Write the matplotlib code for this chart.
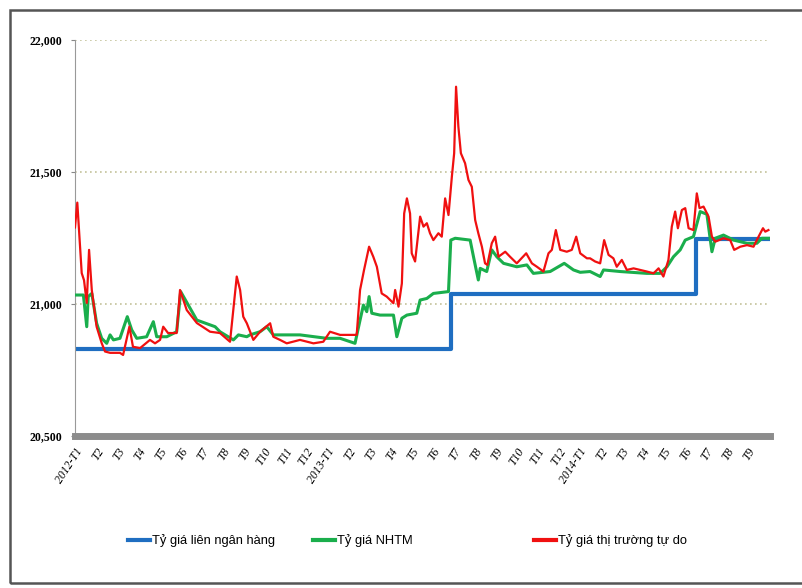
import matplotlib.pyplot as plt
from matplotlib.patches import Rectangle

# thang tinh tu 2012-T1 (0) den 2014-T9 (32)
tick_labels = ['2012-T1', 'T2', 'T3', 'T4', 'T5', 'T6', 'T7', 'T8', 'T9', 'T10', 'T11', 'T12',
               '2013-T1', 'T2', 'T3', 'T4', 'T5', 'T6', 'T7', 'T8', 'T9', 'T10', 'T11', 'T12',
               '2014-T1', 'T2', 'T3', 'T4', 'T5', 'T6', 'T7', 'T8', 'T9']

# Ty gia lien ngan hang (bac thang)
lnh_x = [0.0, 17.88, 29.57, 33.0]
lnh_y = [20828, 21036, 21246, 21246]

# Ty gia NHTM
nhtm_x = [0.00, 0.40, 0.56, 0.63, 0.80, 1.03, 1.27, 1.51, 1.67, 1.83, 2.14, 2.49, 2.70, 2.94,
          3.41, 3.73, 3.89, 4.37, 4.84, 5.03, 5.80, 6.67, 6.90, 7.54, 7.78, 8.18, 8.33, 8.81,
          9.13, 9.44, 9.92, 10.71, 11.98, 12.62, 13.33, 13.57, 13.73, 13.89, 14.00, 14.13,
          14.52, 15.16, 15.32, 15.56, 15.80, 16.27, 16.43, 16.75, 17.06, 17.78, 17.89, 18.10,
          18.81, 18.97, 19.10, 19.20, 19.29, 19.60, 19.84, 20.08, 20.40, 21.03, 21.51, 21.82,
          22.62, 23.29, 23.73, 24.05, 24.52, 25.00, 25.16, 25.95, 27.22, 27.86, 28.18, 28.49,
          28.81, 29.05, 29.44, 29.76, 30.08, 30.32, 30.48, 30.87, 31.35, 31.99, 32.46, 32.70,
          33.01]
nhtm_y = [21034, 21034, 20914, 21028, 21040, 20927, 20870, 20851, 20883, 20864, 20870, 20952,
          20902, 20870, 20876, 20933, 20876, 20876, 20895, 21047, 20939, 20914, 20895, 20864,
          20883, 20876, 20883, 20895, 20914, 20883, 20883, 20883, 20870, 20870, 20851, 20939,
          20996, 20971, 21028, 20965, 20958, 20958, 20876, 20946, 20958, 20965, 21015, 21021,
          21040, 21047, 21242, 21249, 21242, 21179, 21129, 21091, 21135, 21123, 21205, 21179,
          21154, 21141, 21148, 21116, 21123, 21154, 21129, 21120, 21123, 21104, 21129, 21123,
          21116, 21116, 21141, 21179, 21205, 21242, 21255, 21350, 21340, 21198, 21249, 21261,
          21242, 21230, 21230, 21249, 21249]

# Ty gia thi truong tu do
tudo_x = [0.00, 0.11, 0.32, 0.43, 0.56, 0.67, 0.80, 1.03, 1.27, 1.43, 1.67, 2.14, 2.29, 2.59,
          2.76, 3.10, 3.57, 3.81, 4.05, 4.20, 4.43, 4.84, 5.00, 5.32, 5.80, 6.43, 6.90, 7.38,
          7.70, 7.86, 8.01, 8.18, 8.49, 8.81, 9.29, 9.44, 9.76, 10.08, 10.71, 11.35, 11.82,
          12.14, 12.62, 13.41, 13.57, 13.76, 14.00, 14.20, 14.37, 14.60, 14.84, 15.16, 15.24,
          15.40, 15.56, 15.67, 15.80, 15.95, 16.03, 16.19, 16.43, 16.59, 16.75, 16.90, 17.06,
          17.30, 17.46, 17.62, 17.78, 17.94, 18.05, 18.14, 18.25, 18.37, 18.57, 18.73, 18.89,
          19.05, 19.20, 19.37, 19.52, 19.63, 19.84, 20.00, 20.16, 20.48, 20.71, 21.03, 21.48,
          21.75, 21.99, 22.30, 22.54, 22.70, 22.89, 23.10, 23.41, 23.65, 23.86, 24.05, 24.37,
          24.52, 24.76, 25.00, 25.19, 25.40, 25.63, 25.79, 26.03, 26.27, 26.59, 26.90, 27.22,
          27.54, 27.78, 28.01, 28.25, 28.41, 28.57, 28.70, 28.89, 29.05, 29.21, 29.44, 29.60,
          29.73, 29.92, 30.16, 30.32, 30.48, 30.87, 31.19, 31.38, 31.67, 31.99, 32.30, 32.54,
          32.75, 32.86, 33.01]
tudo_y = [21290, 21384, 21117, 21090, 21004, 21205, 21053, 20914, 20852, 20820, 20815, 20815,
          20807, 20914, 20838, 20833, 20864, 20851, 20864, 20914, 20890, 20890, 21053, 20977,
          20928, 20895, 20890, 20857, 21104, 21053, 20952, 20927, 20864, 20895, 20927, 20876,
          20864, 20851, 20864, 20851, 20857, 20895, 20883, 20883, 21053, 21129, 21217, 21179,
          21141, 21040, 21028, 21003, 21053, 20990, 21078, 21343, 21400, 21343, 21192, 21161,
          21331, 21293, 21306, 21268, 21242, 21268, 21255, 21400, 21337, 21482, 21571, 21823,
          21672, 21571, 21533, 21470, 21444, 21318, 21268, 21217, 21154, 21148, 21230, 21255,
          21179, 21198, 21179, 21154, 21192, 21154, 21141, 21123, 21192, 21205, 21280, 21205,
          21198, 21205, 21255, 21192, 21173, 21173, 21161, 21154, 21242, 21186, 21173, 21141,
          21167, 21129, 21135, 21129, 21123, 21116, 21135, 21104, 21167, 21293, 21350, 21287,
          21356, 21363, 21287, 21280, 21419, 21363, 21369, 21331, 21255, 21236, 21249, 21242,
          21205, 21217, 21223, 21217, 21255, 21287, 21274, 21280]

fig = plt.figure(figsize=(8.02, 5.88), dpi=100)
ax = fig.add_axes([0.0935, 0.2585, 0.867, 0.6735])

ax.plot(lnh_x, lnh_y, drawstyle='steps-post', color='#1f6ec1', lw=3.0,
        label='Tỷ giá liên ngân hàng', zorder=2)
ax.plot(nhtm_x, nhtm_y, color='#1aae4c', lw=2.2, label='Tỷ giá NHTM', zorder=3)
ax.plot(tudo_x, tudo_y, color='#f01010', lw=1.6, label='Tỷ giá thị trường tự do', zorder=4)

ax.set_xlim(0, 33.1)
ax.set_ylim(20500, 22000)
ax.set_yticks([20500, 21000, 21500, 22000])
ax.set_yticklabels(['20,500', '21,000', '21,500', '22,000'],
                   fontfamily='Liberation Serif', fontsize=8.5, fontweight='bold')
ax.set_xticks(range(len(tick_labels)))
ax.set_xticklabels(tick_labels, rotation=57, ha='right', va='top', rotation_mode='anchor',
                   fontfamily='Liberation Serif', fontsize=8.5, fontstyle='italic')
ax.tick_params(axis='x', length=0, pad=7)
ax.tick_params(axis='y', length=3, color='#888888', pad=6)

for y in [21000, 21500, 22000]:
    ax.axhline(y, color='#c4c29a', lw=1.2, linestyle=(0, (1, 2)), zorder=1)

ax.spines['top'].set_visible(False)
ax.spines['right'].set_visible(False)
ax.spines['left'].set_color('#999999')
ax.spines['bottom'].set_color('#8c8c8c')
ax.spines['bottom'].set_linewidth(5)

# chu thich: moi muc dat rieng mot cho nhu ban goc
legend_pos = [122, 307, 528]
for line, xpos in zip(ax.get_lines(), legend_pos):
    leg = fig.legend([line], [line.get_label()], loc='center left',
                     bbox_to_anchor=(xpos / 802, 0.08), frameon=False, borderpad=0,
                     handlelength=1.65, handletextpad=0.15,
                     prop={'family': 'Liberation Sans', 'size': 9.3})
    leg.get_lines()[0].set_linewidth(3)

# khung ngoai
fig.patches.append(Rectangle((10 / 802, 5 / 588), 1.0, 573 / 588, transform=fig.transFigure,
                             fill=False, edgecolor='#555555', lw=1.8))

fig.savefig('out.png', dpi=100)
